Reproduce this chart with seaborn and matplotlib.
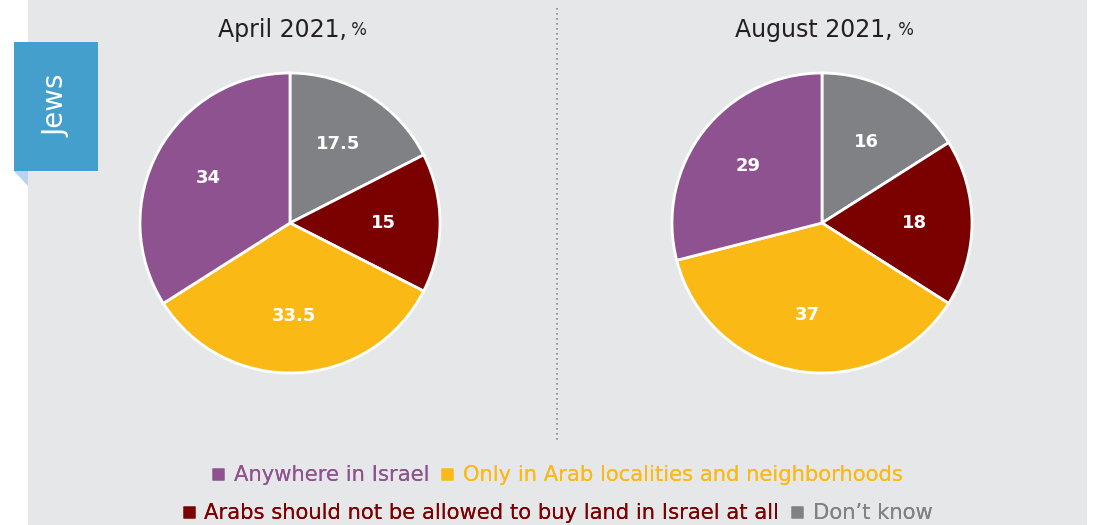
import matplotlib
matplotlib.use('Agg')
import matplotlib.pyplot as plt
import seaborn as sns
from matplotlib.patches import Rectangle, Polygon
from matplotlib.lines import Line2D

# data
categories = ["Don\u2019t know", "Arabs should not be allowed to buy land in Israel at all",
              "Only in Arab localities and neighborhoods", "Anywhere in Israel"]
april_values = [17.5, 15, 33.5, 34]
april_labels = ["17.5", "15", "33.5", "34"]
august_values = [16, 18, 37, 29]
august_labels = ["16", "18", "37", "29"]
titles = ["April 2021,", "August 2021,"]
colors = ['#808184', '#7b0000', '#fbb915', '#8f5290']

sns.set_style('white')
plt.rcParams['font.family'] = ['DejaVu Sans']

W, H = 1109, 525
fig = plt.figure(figsize=(W / 100, H / 100), dpi=100, facecolor='white')

def fx(px):
    return px / W

def fy(py):
    return 1 - py / H

# background layer in pixel coords
bg = fig.add_axes([0, 0, 1, 1], zorder=-1)
bg.set_xlim(0, W)
bg.set_ylim(H, 0)
bg.axis('off')
bg.add_patch(Rectangle((28, 0), 1087 - 28, H, facecolor='#e6e7e9', edgecolor='none'))
bg.add_patch(Polygon([(14, 171), (28, 171), (28, 186)], closed=True,
                     facecolor='#b9d4ec', edgecolor='none'))
bg.add_patch(Rectangle((14, 42), 98 - 14, 171 - 42, facecolor='#459fcc', edgecolor='none'))
bg.text(56, 106, 'Jews', rotation=90, color='white', fontsize=20,
        ha='center', va='center')
bg.plot([557, 557], [8, 440], color='#8a8a8a', linestyle=(0, (1, 2)), linewidth=1.2)

r = 150
for cx, vals, labs, title in [(290, april_values, april_labels, titles[0]),
                              (822, august_values, august_labels, titles[1])]:
    ax = fig.add_axes([fx(cx - r), fy(223 + r), 2 * r / W, 2 * r / H])
    ax.patch.set_alpha(0)
    wedges, texts = ax.pie(vals, labels=labs, colors=colors, startangle=90,
                           counterclock=False, labeldistance=0.62,
                           wedgeprops=dict(edgecolor='white', linewidth=2))
    for t in texts:
        t.set_color('white')
        t.set_fontweight('bold')
        t.set_fontsize(13)
        t.set_ha('center')
        t.set_va('center')
    ax.set_xlim(-1, 1)
    ax.set_ylim(-1, 1)
    ax.axis('off')
    tt = bg.text(cx - 8, 30, title, fontsize=17, color='#231f20',
                 ha='center', va='center')
    bg.annotate(' %', xy=(1, 0.12), xycoords=tt, fontsize=12, color='#231f20',
                ha='left', va='bottom')

# legend, two rows
row1 = [3, 2]
row2 = [1, 0]
for idx, y in [(row1, 475), (row2, 513)]:
    handles = [Line2D([], [], marker='s', linestyle='none', markersize=9,
                      markerfacecolor=colors[i], markeredgecolor='none') for i in idx]
    leg = fig.legend(handles, [categories[i] for i in idx], loc='center',
                     bbox_to_anchor=(fx(557), fy(y)), ncol=2, frameon=False,
                     fontsize=15.2, handlelength=0.7, handletextpad=0.4,
                     columnspacing=0.5, labelcolor=[colors[i] for i in idx])
    fig.add_artist(leg)

fig.savefig('out.png', dpi=100, facecolor='white')
